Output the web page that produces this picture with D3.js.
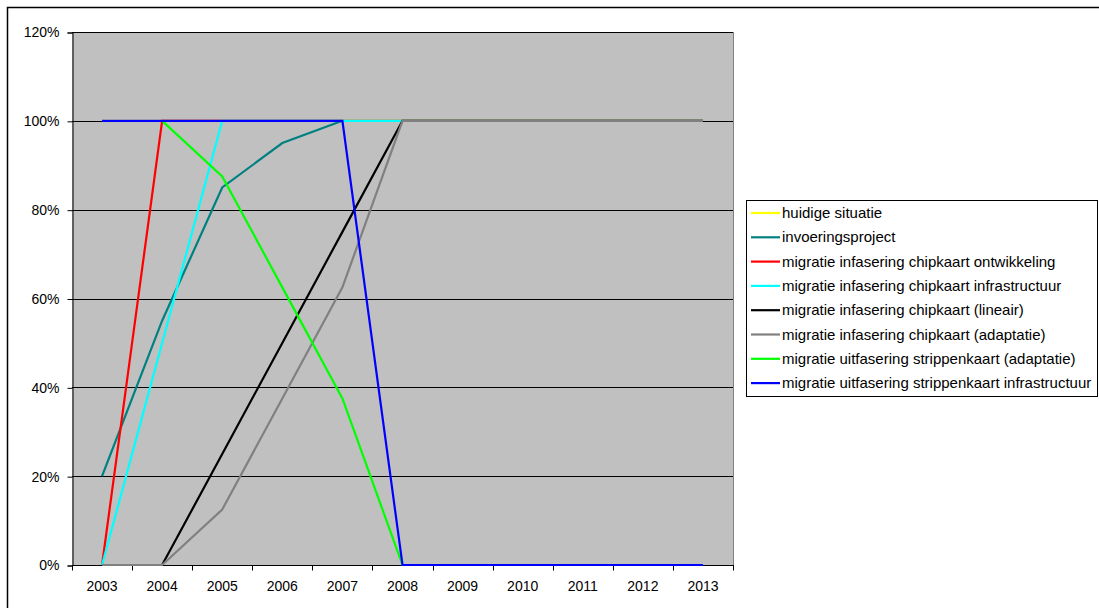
<!DOCTYPE html>
<html><head><meta charset="utf-8">
<script src="https://cdn.jsdelivr.net/npm/d3@7"></script>
<style>html,body{margin:0;padding:0;background:#fff;overflow:hidden}</style>
</head><body>
<svg id="c" width="1099" height="608"></svg>
<script>
const years = ["2003","2004","2005","2006","2007","2008","2009","2010","2011","2012","2013"];
const yTicks = [0,0.2,0.4,0.6,0.8,1.0,1.2];
const seriesNames = ["huidige situatie","invoeringsproject","migratie infasering chipkaart ontwikkeling","migratie infasering chipkaart infrastructuur","migratie infasering chipkaart (lineair)","migratie infasering chipkaart (adaptatie)","migratie uitfasering strippenkaart (adaptatie)","migratie uitfasering strippenkaart infrastructuur"];
const seriesColors = ["#FFFF00","#008080","#FF0000","#00FFFF","#000000","#808080","#00FF00","#0000FF"];
const huidige      = [1,1,1,1,1,1,1,1,1,1,1];
const invoering    = [0.20,0.55,0.85,0.95,1.00,null,null,null,null,null,null];
const ontwikkeling = [0,1,1,1,1,1,1,1,1,1,1];
const infraIn      = [0,0.5,1,1,1,1,1,1,1,1,1];
const lineair      = [0,0,0.25,0.5,0.75,1,1,1,1,1,1];
const adaptIn      = [0,0,0.125,0.375,0.625,1,1,1,1,1,1];
const adaptUit     = [null,1,0.875,0.625,0.375,0,0,0,0,0,0];
const infraUit     = [1,1,1,1,1,0,0,0,0,0,0];
const allSeries = [huidige,invoering,ontwikkeling,infraIn,lineair,adaptIn,adaptUit,infraUit];

const svg = d3.select("#c");
const font = "'Liberation Sans', Arial, sans-serif";
// outer chart border
svg.append("rect").attr("x",7.5).attr("y",7.5).attr("width",1120).attr("height",620)
  .attr("fill","#fff").attr("stroke","#000").attr("stroke-width",1.5);

const L=72, R=733, T=32, B=565;
const x = d3.scaleBand().domain(years).range([L,R]);
const y = d3.scaleLinear().domain([0,1.2]).range([B,T]);

svg.append("rect").attr("x",L).attr("y",T).attr("width",R-L).attr("height",B-T).attr("fill","#C0C0C0");
// gridlines
svg.append("g").selectAll("line").data(yTicks.filter(d=>d>0)).join("line")
  .attr("x1",L).attr("x2",R).attr("y1",d=>Math.round(y(d))+0.5).attr("y2",d=>Math.round(y(d))+0.5)
  .attr("stroke","#000").attr("stroke-width",1);
// right border of plot area
svg.append("line").attr("x1",R+0.5).attr("x2",R+0.5).attr("y1",T).attr("y2",B).attr("stroke","#808080");

// y axis
const ya = d3.axisLeft(y).tickValues(yTicks).tickFormat(d3.format(".0%")).tickSize(5).tickPadding(8);
const gy = svg.append("g").attr("transform",`translate(${L+0.5},0.5)`).call(ya);
gy.select(".domain").attr("stroke","#000");
gy.selectAll("line").attr("stroke","#000");
gy.selectAll("text").attr("font-family",font).attr("font-size",14).attr("fill","#000");

// x axis: ticks at category boundaries
const gx = svg.append("g").attr("transform",`translate(0,${B+0.5})`);
gx.append("line").attr("x1",L).attr("x2",R+1).attr("y1",0).attr("y2",0).attr("stroke","#000");
const bounds = years.map(d=>x(d)).concat([x(years[years.length-1])+x.bandwidth()]);
gx.selectAll("line.t").data(bounds).join("line").attr("class","t")
  .attr("x1",d=>Math.round(d)+0.5).attr("x2",d=>Math.round(d)+0.5).attr("y1",0).attr("y2",5).attr("stroke","#000");
gx.selectAll("text").data(years).join("text")
  .attr("x",d=>x(d)+x.bandwidth()/2).attr("y",25).attr("text-anchor","middle")
  .attr("font-family",font).attr("font-size",14).text(d=>d);

// lines
const line = d3.line().defined(d=>d!=null).x((d,i)=>x(years[i])+x.bandwidth()/2).y(d=>y(d));
allSeries.forEach((s,i)=>{
  svg.append("path").datum(s).attr("d",line).attr("fill","none")
    .attr("stroke",seriesColors[i]).attr("stroke-width",2.2).attr("stroke-linejoin","miter");
});

// legend
const lg = svg.append("g");
lg.append("rect").attr("x",746.5).attr("y",200.5).attr("width",351).attr("height",196)
  .attr("fill","#fff").attr("stroke","#000");
seriesNames.forEach((n,i)=>{
  const yy = 213 + i*24.3;
  lg.append("line").attr("x1",751).attr("x2",780).attr("y1",yy).attr("y2",yy)
    .attr("stroke",seriesColors[i]).attr("stroke-width",2.2);
  lg.append("text").attr("x",782).attr("y",yy+5).attr("font-family",font).attr("font-size",15).text(n);
});
</script>
</body></html>
